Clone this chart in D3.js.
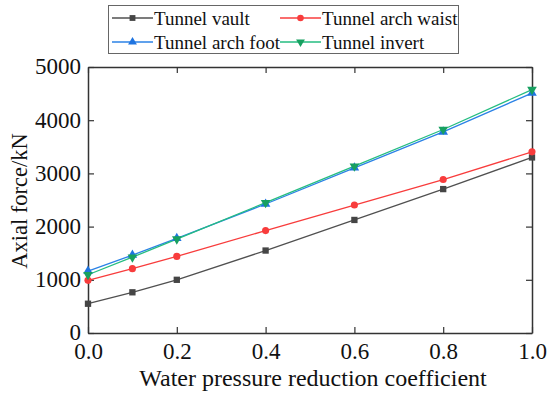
<!DOCTYPE html>
<html><head><meta charset="utf-8">
<script src="https://cdn.jsdelivr.net/npm/d3@7"></script>
<style>body{margin:0;background:#fff}svg{display:block}text{font-family:"Liberation Serif","Times New Roman",serif}</style>
</head><body><svg id="c" width="550" height="398"></svg>
<script>
const xValues = [0, 0.1, 0.2, 0.4, 0.6, 0.8, 1.0];
const seriesNames = ["Tunnel vault", "Tunnel arch waist", "Tunnel arch foot", "Tunnel invert"];
const vault = [550, 765, 1000, 1550, 2125, 2705, 3300];
const archWaist = [990, 1210, 1440, 1925, 2405, 2885, 3405];
const archFoot = [1165, 1465, 1780, 2425, 3105, 3780, 4510];
const invert = [1095, 1425, 1765, 2450, 3135, 3825, 4575];
const xTicks = [0, 0.2, 0.4, 0.6, 0.8, 1.0];
const yTicks = [0, 1000, 2000, 3000, 4000, 5000];

(function () {
const colors = ["#505050", "#f83c3c", "#2b82e6", "#25bd80"];
const markColors = ["#454545", "#f83c3c", "#1f74e0", "#17a060"];
const symbols = [d3.symbolSquare, d3.symbolCircle, d3.symbolTriangle, d3.symbolTriangle];
const data = [vault, archWaist, archFoot, invert];

const svg = d3.select("#c");
const L = 88, R = 532, T = 67, B = 333;
const x = d3.scaleLinear().domain([0, 1]).range([L, R]);
const y = d3.scaleLinear().domain([0, 5000]).range([B, T]);
const frameColor = "#333";

const gB = svg.append("g").attr("transform", `translate(0,${B})`)
  .call(d3.axisBottom(x).tickValues(xTicks).tickFormat(d3.format(".1f")).tickSizeInner(-6).tickSizeOuter(0).tickPadding(3));
const gT = svg.append("g").attr("transform", `translate(0,${T})`)
  .call(d3.axisTop(x).tickValues(xTicks).tickFormat("").tickSizeInner(-6).tickSizeOuter(0));
const gL = svg.append("g").attr("transform", `translate(${L},0)`)
  .call(d3.axisLeft(y).tickValues(yTicks).tickFormat(d3.format("d")).tickSizeInner(-6).tickSizeOuter(0).tickPadding(7));
const gR = svg.append("g").attr("transform", `translate(${R},0)`)
  .call(d3.axisRight(y).tickValues(yTicks).tickFormat("").tickSizeInner(-6).tickSizeOuter(0));
[gB, gT, gL, gR].forEach(g => {
  g.selectAll("path.domain").attr("stroke", frameColor).attr("stroke-width", 1.5);
  g.selectAll("line").attr("stroke", frameColor).attr("stroke-width", 1.2);
  g.selectAll("text").attr("fill", "#111").style("font-size", "23px").style("font-family", '"Liberation Serif",serif');
});
gB.selectAll("text").attr("dy", "0.98em");
gL.selectAll("text").attr("dy", "0.3em");

const line = d3.line().x((d, i) => x(xValues[i])).y(d => y(d));
data.forEach((s, k) => {
  svg.append("path").datum(s).attr("d", line).attr("fill", "none")
    .attr("stroke", colors[k]).attr("stroke-width", 1.3);
});
data.forEach((s, k) => {
  svg.append("g").selectAll("path").data(s).join("path")
    .attr("transform", (d, i) => `translate(${x(xValues[i])},${y(d)})` + (k === 3 ? " rotate(180)" : ""))
    .attr("d", d3.symbol().type(symbols[k]).size(40))
    .attr("fill", markColors[k]);
});

svg.append("text").attr("x", 313).attr("y", 386).attr("text-anchor", "middle")
  .style("font-size", "24px").attr("fill", "#111").text("Water pressure reduction coefficient");
svg.append("text").attr("transform", `translate(27,${201}) rotate(-90)`).attr("text-anchor", "middle")
  .style("font-size", "22.5px").attr("fill", "#111").text("Axial force/kN");

const lg = svg.append("g");
lg.append("rect").attr("x", 108.5).attr("y", 5.5).attr("width", 350).attr("height", 48)
  .attr("fill", "#fff").attr("stroke", "#666").attr("stroke-width", 1);
const pos = [[112, 18], [280, 18], [112, 42], [280, 42]];
seriesNames.forEach((n, k) => {
  const [px, py] = pos[k];
  lg.append("line").attr("x1", px).attr("x2", px + 41).attr("y1", py).attr("y2", py)
    .attr("stroke", colors[k]).attr("stroke-width", 1.3);
  lg.append("path").attr("transform", `translate(${px + 20.5},${py})` + (k === 3 ? " rotate(180)" : ""))
    .attr("d", d3.symbol().type(symbols[k]).size(34)).attr("fill", markColors[k]);
  lg.append("text").attr("x", px + 42).attr("y", py).attr("dy", "0.35em")
    .style("font-size", "19px").attr("fill", "#111").text(n);
});
})();
</script></body></html>
